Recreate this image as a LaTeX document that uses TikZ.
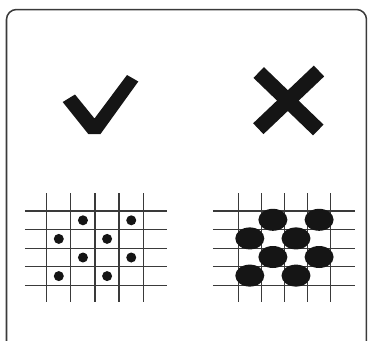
\documentclass[tikz,border=0pt]{standalone}
\usepackage{xcolor}
\usepackage{tikz}
\usetikzlibrary{positioning,calc}
\definecolor{ink}{HTML}{151515}
\definecolor{gridgray}{HTML}{3A3A3A}
\tikzset{
	frame/.style={draw=gridgray, line width=1.5pt, rounded corners=10pt},
	gridline/.style={draw=gridgray, line width=1.3pt},
	blob/.style={fill=ink, draw=none},
	xarm/.style={draw=ink, line width=15pt, line cap=butt}
}

\begin{document}
\begin{tikzpicture}[x=1pt, y=-1pt]
	\clip (0,0) rectangle (368,341);
	\useasboundingbox (0,0) rectangle (368,341);
	\draw[frame] (6.5,9.5) rectangle (366.5,352);

	% tick and cross
	\fill[blob] (62.7,102) -- (75,94.5) -- (94.5,118.5) -- (127,75) -- (138.3,81.5)
		-- (100.5,134) -- (88.3,134) -- cycle;
	\coordinate (xa) at (258.7,72.5);
	\coordinate (xb) at (318.3,130);
	\coordinate (xc) at (319,71);
	\coordinate (xd) at (258.3,128.7);
	\draw[xarm] (xa) -- (xb);
	\draw[xarm] (xc) -- (xd);

	% left grid, small dots
	\foreach \i in {0,...,4} {
		\draw[gridline] ({46.7+24.15*\i},193) -- ({46.7+24.15*\i},302);
		\draw[gridline] (25,{211+18.6*\i}) -- (167,{211+18.6*\i});
	}
	\foreach \c/\r in {1/0,3/0,0/1,2/1,1/2,3/2,0/3,2/3}
		\fill[blob] ({58.8+24.15*\c},{220.3+18.6*\r}) circle (5);

	% right grid, big blobs
	\foreach \i in {0,...,4} {
		\draw[gridline] ({238.3+23.1*\i},193) -- ({238.3+23.1*\i},302);
		\draw[gridline] (213,{211+18.6*\i}) -- (355,{211+18.6*\i});
	}
	\foreach \c/\r in {1/0,3/0,0/1,2/1,1/2,3/2,0/3,2/3}
		\fill[blob] ({249.8+23.1*\c},{219.8+18.6*\r}) ellipse (14.5 and 11);
\end{tikzpicture}
\end{document}
